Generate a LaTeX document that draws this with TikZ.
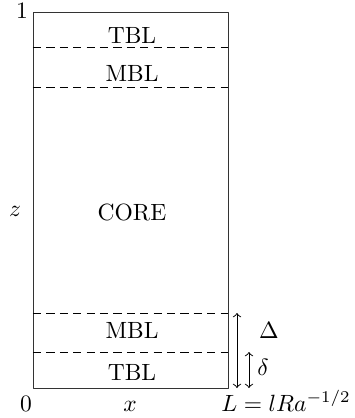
\documentclass[tikz,border=0pt]{standalone}
\usepackage{amsmath}
\usepackage{tikz}

\begin{document}
\begin{tikzpicture}[x=0.4255pt, y=-0.4255pt, line join=round]
      \useasboundingbox (0,0) rectangle (354,418);
      \def\xl{33}
      \def\xr{228}
      \def\xm{132}
      \def\yt{12}
      \def\yb{388}

      % box corners
      \coordinate (BL) at (\xl,\yb);
      \coordinate (TR) at (\xr,\yt);
      \draw[black!80] (BL) rectangle (TR);

      % layer edges (top)
      \coordinate (T1) at (\xl,47);
      \coordinate (T2) at (\xl,87);
      \draw[dash pattern=on 3.5pt off 2.2pt] (T1) -- (\xr,47);
      \draw[dash pattern=on 3.5pt off 2.2pt] (T2) -- (\xr,87);
      % layer edges (bottom)
      \coordinate (B1) at (\xl,313);
      \coordinate (B2) at (\xl,352);
      \draw[dash pattern=on 3.5pt off 2.2pt] (B1) -- (\xr,313);
      \draw[dash pattern=on 3.5pt off 2.2pt] (B2) -- (\xr,352);

      % layer names
      \node (tbltop) at (\xm,35) {TBL};
      \node (mbltop) at (\xm,73.5) {MBL};
      \node (core) at (\xm,212) {CORE};
      \node (mblbot) at (\xm,330) {MBL};
      \node (tblbot) at (\xm,372) {TBL};

      % axes
      \node[anchor=base] (one) at (22,18) {1};
      \node (zlab) at (15,211) {$z$};
      \node[anchor=base] (zero) at (26,411) {0};
      \node[anchor=base] (xlab) at (130,411) {$x$};
      \node[anchor=base] (Llab) at (286,411) {$L=lRa^{-1/2}$};

      % thicknesses
      \coordinate (Dtop) at (237,313);
      \coordinate (Dbot) at (237,388);
      \coordinate (dtop) at (249,352);
      \coordinate (dbot) at (249,388);
      \draw[<->] (Dtop) -- (Dbot);
      \draw[<->] (dtop) -- (dbot);
      \node (Delta) at (269,330) {$\Delta$};
      \node (delta) at (263,367) {$\delta$};

\end{tikzpicture}
\end{document}
